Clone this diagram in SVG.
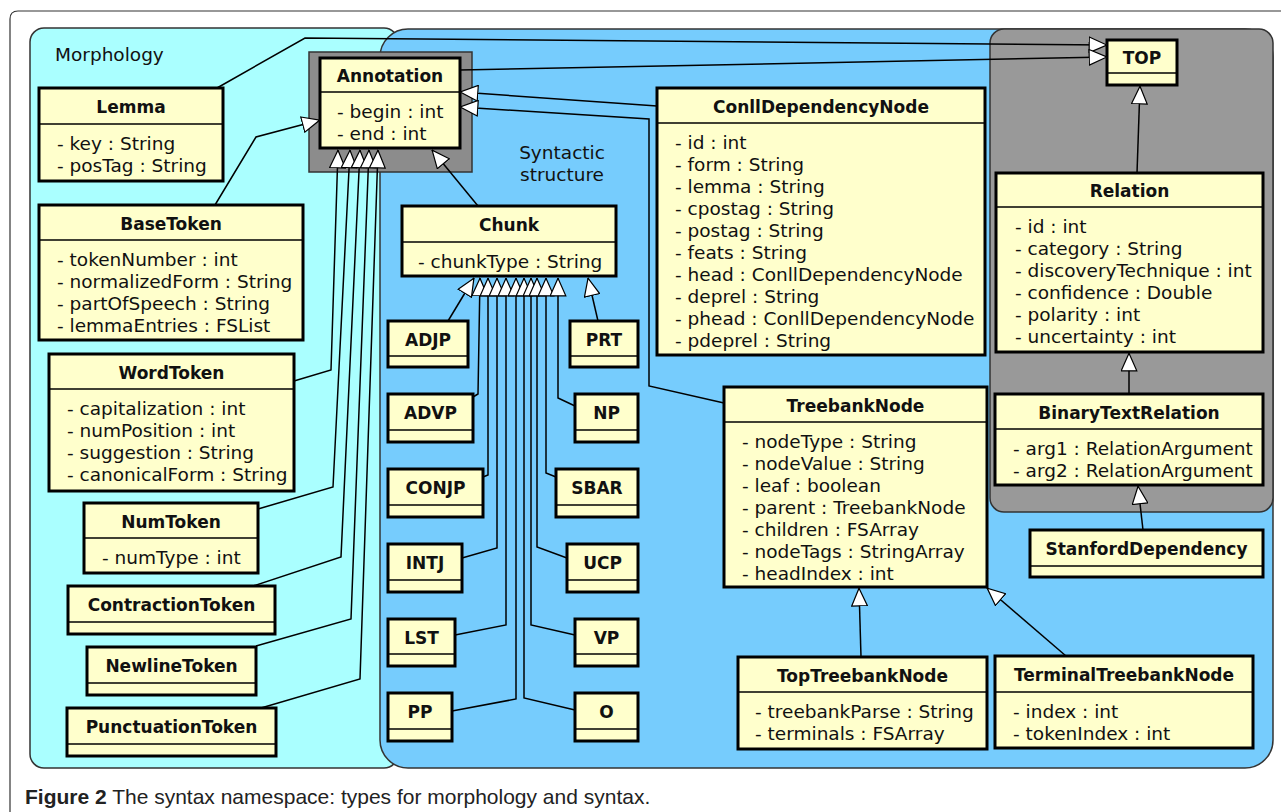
<svg xmlns="http://www.w3.org/2000/svg" width="1281" height="812" viewBox="0 0 1281 812">
<style>
.n{fill:#ffffcc;stroke:#000;stroke-width:3}
.d{stroke:#000;stroke-width:1.5}
.t{font-family:"DejaVu Sans",sans-serif;font-size:17px;font-weight:bold;text-anchor:middle;fill:#111}
.a{font-family:"DejaVu Sans",sans-serif;font-size:18.5px;fill:#111}
.lbl{font-family:"DejaVu Sans",sans-serif;font-size:18.5px;fill:#111}
.c{fill:none;stroke:#000;stroke-width:1.5;marker-end:url(#tri)}
.cap{font-family:"Liberation Sans",Arial,sans-serif;font-size:21px;fill:#222}
</style>
<defs>
<marker id="tri" viewBox="0 0 19 17" refX="18.5" refY="8.5" markerWidth="19" markerHeight="17" markerUnits="userSpaceOnUse" orient="auto">
<path d="M0.7,0.7 L18.3,8.5 L0.7,16.3 Z" fill="#fff" stroke="#000" stroke-width="1.2"/>
</marker>
</defs>
<rect width="1281" height="812" fill="#fff"/>
<path d="M10,812 V19 Q10,11 18,11 H1281" fill="none" stroke="#333" stroke-width="1.2"/>
<g id="regions">
<rect x="30" y="28" width="368" height="740" rx="14" fill="#aaffff" stroke="#333" stroke-width="1.5"/>
<text class="lbl" x="55" y="61">Morphology</text>
<rect x="380" y="29" width="893" height="739" rx="28" fill="#76ccfd" stroke="#333" stroke-width="1.5"/>
<text class="lbl" x="562" y="159" text-anchor="middle">Syntactic</text>
<text class="lbl" x="562" y="181" text-anchor="middle">structure</text>
<rect x="990" y="29" width="283" height="483" rx="14" fill="#999999" stroke="#333" stroke-width="1.5"/>
</g>
<g id="nodes">
<g id="lemma"><rect class="n" x="39" y="88" width="184" height="93"/><line class="d" x1="39" y1="124" x2="223" y2="124"/><text class="t" x="131" y="113">Lemma</text><text class="a" x="57" y="149.5">- key : String</text><text class="a" x="57" y="171.5">- posTag : String</text></g>
<g id="basetoken"><rect class="n" x="39" y="205" width="264" height="135"/><line class="d" x1="39" y1="240" x2="303" y2="240"/><text class="t" x="171" y="229.5">BaseToken</text><text class="a" x="57" y="265.5">- tokenNumber : int</text><text class="a" x="57" y="287.5">- normalizedForm : String</text><text class="a" x="57" y="309.5">- partOfSpeech : String</text><text class="a" x="57" y="331.5">- lemmaEntries : FSList</text></g>
<g id="wordtoken"><rect class="n" x="49" y="354" width="245" height="137"/><line class="d" x1="49" y1="389" x2="294" y2="389"/><text class="t" x="171.5" y="378.5">WordToken</text><text class="a" x="67" y="414.5">- capitalization : int</text><text class="a" x="67" y="436.5">- numPosition : int</text><text class="a" x="67" y="458.5">- suggestion : String</text><text class="a" x="67" y="480.5">- canonicalForm : String</text></g>
<g id="numtoken"><rect class="n" x="84" y="503" width="174" height="70"/><line class="d" x1="84" y1="538" x2="258" y2="538"/><text class="t" x="171" y="527.5">NumToken</text><text class="a" x="102" y="563.5">- numType : int</text></g>
<g id="contractiontoken"><rect class="n" x="68" y="586" width="207" height="48"/><line class="d" x1="68" y1="622" x2="275" y2="622"/><text class="t" x="171.5" y="611">ContractionToken</text></g>
<g id="newlinetoken"><rect class="n" x="87" y="647" width="169" height="48"/><line class="d" x1="87" y1="683" x2="256" y2="683"/><text class="t" x="171.5" y="672">NewlineToken</text></g>
<g id="punctuationtoken"><rect class="n" x="67" y="708" width="209" height="48"/><line class="d" x1="67" y1="744" x2="276" y2="744"/><text class="t" x="171.5" y="733">PunctuationToken</text></g>
<g id="annotation"><rect x="309" y="52" width="163" height="120" fill="#8c8c8c" stroke="#333" stroke-width="1.5"/><rect class="n" x="320" y="58" width="140" height="90"/><line class="d" x1="320" y1="92" x2="460" y2="92"/><text class="t" x="390" y="82">Annotation</text><text class="a" x="337" y="117.5">- begin : int</text><text class="a" x="337" y="139.5">- end : int</text></g>
<g id="chunk"><rect class="n" x="402" y="206" width="214" height="70"/><line class="d" x1="402" y1="242" x2="616" y2="242"/><text class="t" x="509" y="231">Chunk</text><text class="a" x="418" y="267.5">- chunkType : String</text></g>
<g id="adjp"><rect class="n" x="388" y="321" width="80" height="46"/><line class="d" x1="388" y1="356" x2="468" y2="356"/><text class="t" x="428" y="345.5">ADJP</text></g>
<g id="prt"><rect class="n" x="570" y="321" width="68" height="46"/><line class="d" x1="570" y1="356" x2="638" y2="356"/><text class="t" x="604" y="345.5">PRT</text></g>
<g id="advp"><rect class="n" x="388" y="394" width="85" height="48"/><line class="d" x1="388" y1="430" x2="473" y2="430"/><text class="t" x="430.5" y="419">ADVP</text></g>
<g id="np"><rect class="n" x="575" y="394" width="63" height="48"/><line class="d" x1="575" y1="430" x2="638" y2="430"/><text class="t" x="606.5" y="419">NP</text></g>
<g id="conjp"><rect class="n" x="388" y="469" width="95" height="48"/><line class="d" x1="388" y1="505" x2="483" y2="505"/><text class="t" x="435.5" y="494">CONJP</text></g>
<g id="sbar"><rect class="n" x="556" y="469" width="82" height="48"/><line class="d" x1="556" y1="505" x2="638" y2="505"/><text class="t" x="597" y="494">SBAR</text></g>
<g id="intj"><rect class="n" x="388" y="544" width="74" height="48"/><line class="d" x1="388" y1="580" x2="462" y2="580"/><text class="t" x="425" y="569">INTJ</text></g>
<g id="ucp"><rect class="n" x="567" y="544" width="71" height="48"/><line class="d" x1="567" y1="580" x2="638" y2="580"/><text class="t" x="602.5" y="569">UCP</text></g>
<g id="lst"><rect class="n" x="388" y="619" width="67" height="47"/><line class="d" x1="388" y1="654" x2="455" y2="654"/><text class="t" x="421.5" y="643.5">LST</text></g>
<g id="vp"><rect class="n" x="575" y="619" width="63" height="47"/><line class="d" x1="575" y1="654" x2="638" y2="654"/><text class="t" x="606.5" y="643.5">VP</text></g>
<g id="pp"><rect class="n" x="388" y="693" width="64" height="48"/><line class="d" x1="388" y1="729" x2="452" y2="729"/><text class="t" x="420" y="718">PP</text></g>
<g id="o"><rect class="n" x="575" y="693" width="63" height="48"/><line class="d" x1="575" y1="729" x2="638" y2="729"/><text class="t" x="606.5" y="718">O</text></g>
<g id="conlldependencynode"><rect class="n" x="657" y="88" width="328" height="267"/><line class="d" x1="657" y1="123" x2="985" y2="123"/><text class="t" x="821" y="112.5">ConllDependencyNode</text><text class="a" x="675" y="148.5">- id : int</text><text class="a" x="675" y="170.5">- form : String</text><text class="a" x="675" y="192.5">- lemma : String</text><text class="a" x="675" y="214.5">- cpostag : String</text><text class="a" x="675" y="236.5">- postag : String</text><text class="a" x="675" y="258.5">- feats : String</text><text class="a" x="675" y="280.5">- head : ConllDependencyNode</text><text class="a" x="675" y="302.5">- deprel : String</text><text class="a" x="675" y="324.5">- phead : ConllDependencyNode</text><text class="a" x="675" y="346.5">- pdeprel : String</text></g>
<g id="top"><rect class="n" x="1107" y="40" width="70" height="45"/><line class="d" x1="1107" y1="73" x2="1177" y2="73"/><text class="t" x="1142" y="63.5">TOP</text></g>
<g id="relation"><rect class="n" x="996" y="173" width="267" height="179"/><line class="d" x1="996" y1="207" x2="1263" y2="207"/><text class="t" x="1129.5" y="197">Relation</text><text class="a" x="1015" y="232.5">- id : int</text><text class="a" x="1015" y="254.5">- category : String</text><text class="a" x="1015" y="276.5">- discoveryTechnique : int</text><text class="a" x="1015" y="298.5">- confidence : Double</text><text class="a" x="1015" y="320.5">- polarity : int</text><text class="a" x="1015" y="342.5">- uncertainty : int</text></g>
<g id="binarytextrelation"><rect class="n" x="995" y="394" width="268" height="91"/><line class="d" x1="995" y1="429" x2="1263" y2="429"/><text class="t" x="1129" y="418.5">BinaryTextRelation</text><text class="a" x="1013" y="454.5">- arg1 : RelationArgument</text><text class="a" x="1013" y="476.5">- arg2 : RelationArgument</text></g>
<g id="stanforddependency"><rect class="n" x="1030" y="530" width="233" height="47"/><line class="d" x1="1030" y1="566" x2="1263" y2="566"/><text class="t" x="1146.5" y="555">StanfordDependency</text></g>
<g id="treebanknode"><rect class="n" x="724" y="387" width="263" height="200"/><line class="d" x1="724" y1="422" x2="987" y2="422"/><text class="t" x="855.5" y="411.5">TreebankNode</text><text class="a" x="742" y="447.5">- nodeType : String</text><text class="a" x="742" y="469.5">- nodeValue : String</text><text class="a" x="742" y="491.5">- leaf : boolean</text><text class="a" x="742" y="513.5">- parent : TreebankNode</text><text class="a" x="742" y="535.5">- children : FSArray</text><text class="a" x="742" y="557.5">- nodeTags : StringArray</text><text class="a" x="742" y="579.5">- headIndex : int</text></g>
<g id="toptreebanknode"><rect class="n" x="738" y="657" width="249" height="92"/><line class="d" x1="738" y1="692" x2="987" y2="692"/><text class="t" x="862.5" y="681.5">TopTreebankNode</text><text class="a" x="755" y="717.5">- treebankParse : String</text><text class="a" x="755" y="739.5">- terminals : FSArray</text></g>
<g id="terminaltreebanknode"><rect class="n" x="995" y="656" width="258" height="92"/><line class="d" x1="995" y1="692" x2="1253" y2="692"/><text class="t" x="1124" y="681">TerminalTreebankNode</text><text class="a" x="1013" y="717.5">- index : int</text><text class="a" x="1013" y="739.5">- tokenIndex : int</text></g>
</g>
<g id="connectors">
<polyline class="c" points="217,88 305,38 1107,45"/>
<polyline class="c" points="460,70 1107,57"/>
<polyline class="c" points="215,205 256,137 320,120"/>
<polyline class="c" points="294,381 331,370 338,150"/>
<polyline class="c" points="258,509 333,487 350,150"/>
<polyline class="c" points="253,586 341,557 360,150"/>
<polyline class="c" points="256,646 351,619 369,150"/>
<polyline class="c" points="261,708 360,679 378,150"/>
<polyline class="c" points="478,206 432,150"/>
<polyline class="c" points="657,106 460,92"/>
<polyline class="c" points="724,403 649,386 649,119 460,107"/>
<polyline class="c" points="1137,173 1140,86"/>
<polyline class="c" points="1129,394 1129,353"/>
<polyline class="c" points="1143,530 1138,486"/>
<polyline class="c" points="861,657 859,588"/>
<polyline class="c" points="1066,656 987,588"/>
<polyline class="c" points="448,321 474,278"/>
<polyline class="c" points="473,397 478,394 480,278"/>
<polyline class="c" points="483,477 488,475 488,278"/>
<polyline class="c" points="462,558 497,548 497,278"/>
<polyline class="c" points="455,635 506,625 506,278"/>
<polyline class="c" points="452,711 516,699 516,278"/>
<polyline class="c" points="575,710 524,698 524,278"/>
<polyline class="c" points="575,635 531,625 531,278"/>
<polyline class="c" points="567,558 537,547 537,278"/>
<polyline class="c" points="556,477 546,473 546,278"/>
<polyline class="c" points="575,406 558,398 558,278"/>
<polyline class="c" points="598,321 588,278"/>
</g>
<text class="cap" x="25" y="804"><tspan font-weight="bold">Figure 2</tspan> The syntax namespace: types for morphology and syntax.</text>
</svg>
